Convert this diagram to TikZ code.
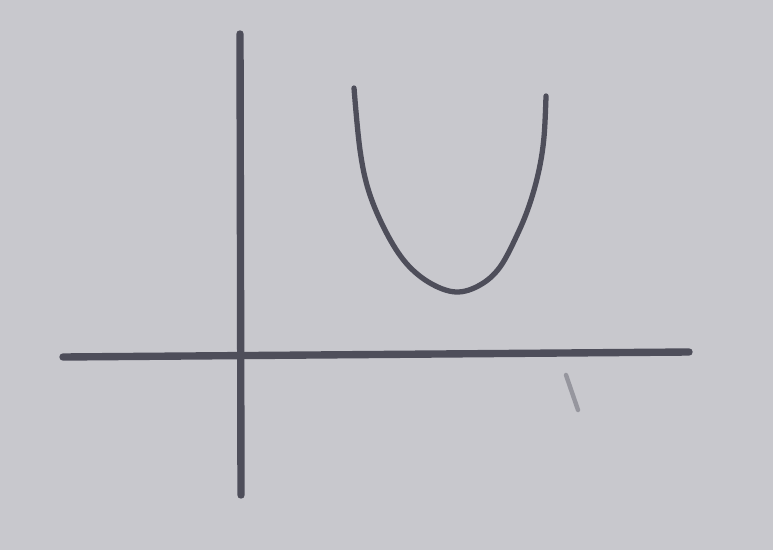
\documentclass[tikz,border=0pt]{standalone}
\usepackage{tikz}
\definecolor{paperGray}{RGB}{200,200,205}
\definecolor{pencilDark}{RGB}{78,78,90}
\definecolor{pencilFaint}{RGB}{150,150,158}

\begin{document}
\begin{tikzpicture}[x=0.02cm,y=-0.02cm,
  axisline/.style={pencilDark,line width=4.2pt,line cap=round},
  curveline/.style={pencilDark,line width=3pt,line cap=round,line join=round},
  strayline/.style={pencilFaint,line width=2.5pt,line cap=round}]
\fill[paperGray] (0,0) rectangle (773,550);
\useasboundingbox (0,0) rectangle (773,550);
\coordinate (xl) at (63,357);\coordinate (xr) at (689,352);
\coordinate (yt) at (240,34);\coordinate (yb) at (241,495);
\draw[axisline] (xl)--(xr);\draw[axisline] (yt)--(yb);
\draw[curveline] plot[smooth,tension=0.6] coordinates {(354,88) (360,150) (369,192) (386,232) (406,263) (430,283) (456,292) (480,285) (500,267) (518,233) (530,203) (539,170) (544,137) (546,96)};
\draw[strayline] (566,375)--(578,410);
\end{tikzpicture}
\end{document}
